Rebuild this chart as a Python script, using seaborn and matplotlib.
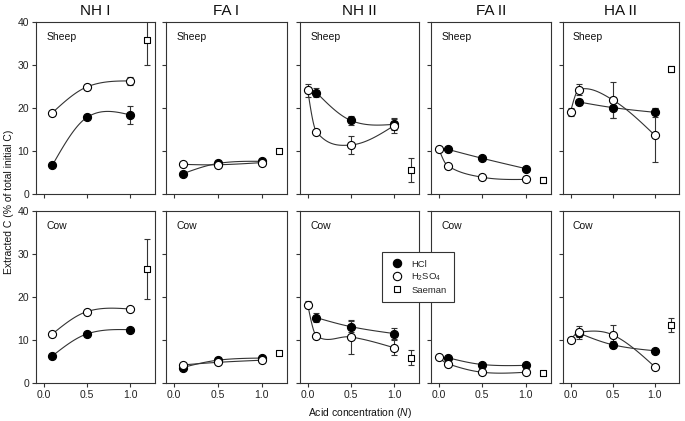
import numpy as np
import pandas as pd
import matplotlib.pyplot as plt
from matplotlib.lines import Line2D
import seaborn as sns

fractions = ["NH I", "FA I", "NH II", "FA II", "HA II"]
animals = ["Sheep", "Cow"]

hcl_x = [0.1, 0.5, 1.0]
h2so4_x_i = [0.1, 0.5, 1.0]          # NH I, FA I
h2so4_x_ii = [0.0, 0.1, 0.5, 1.0]    # NH II, FA II, HA II
saeman_x = 1.2

# sheep, one row per fraction
hcl_sheep = [[6.7, 17.8, 18.4], [4.7, 7.1, 7.6], [23.6, 17.1, 16.2],
             [10.4, 8.3, 5.9], [21.4, 20.1, 19.0]]
hcl_sheep_err = [[0, 0, 2.1], [0, 0, 0], [1.0, 1.0, 1.2],
                 [0, 0, 0], [0.8, 2.4, 1.0]]
h2so4_sheep = [[18.9, 24.9, 26.3], [6.9, 6.8, 7.3], [24.1, 14.5, 11.4, 15.9],
               [10.5, 6.6, 3.9, 3.4], [19.1, 24.3, 21.9, 13.7]]
h2so4_sheep_err = [[0, 0, 1.0], [0, 0, 0], [1.5, 0, 2.1, 1.7],
                   [0, 0, 0, 0], [1.0, 1.3, 4.2, 6.3]]
saeman_sheep = [35.9, 10.0, 5.6, 3.2, 29.0]
saeman_sheep_err = [6.0, 0, 2.7, 0.7, 0.7]

# cow
hcl_cow = [[6.3, 11.4, 12.4], [3.6, 5.3, 5.8], [15.2, 13.1, 11.5],
           [5.9, 4.3, 4.1], [11.6, 8.9, 7.5]]
hcl_cow_err = [[0, 0, 0], [0, 0, 0], [1.0, 1.3, 1.2],
               [0, 0, 0], [1.0, 0.8, 0]]
h2so4_cow = [[11.4, 16.6, 17.2], [4.2, 4.8, 5.3], [18.2, 11.0, 10.7, 8.2],
             [6.0, 4.5, 2.5, 2.5], [10.0, 11.8, 11.2, 3.8]]
h2so4_cow_err = [[0, 0, 0], [0, 0, 0], [0.8, 0, 4.0, 1.8],
                 [0, 0, 0, 0], [0, 1.5, 2.3, 0.5]]
saeman_cow = [26.5, 7.0, 5.9, 2.4, 13.5]
saeman_cow_err = [6.9, 0, 1.8, 0, 1.6]


def smooth_curve(x, y, num=25):
    # cardinal Hermite curve through the measured points (drawing only)
    x = np.asarray(x, float)
    y = np.asarray(y, float)
    n = len(x)
    sec = np.diff(y) / np.diff(x)
    m = np.zeros(n)
    for i in range(1, n - 1):
        m[i] = (y[i + 1] - y[i - 1]) / (x[i + 1] - x[i - 1])
    m[0] = (3 * sec[0] - m[1]) / 2
    m[-1] = (3 * sec[-1] - m[-2]) / 2
    xs_all, ys_all = [], []
    for i in range(n - 1):
        h = x[i + 1] - x[i]
        t = np.linspace(0, 1, num)
        h00 = 2 * t ** 3 - 3 * t ** 2 + 1
        h10 = t ** 3 - 2 * t ** 2 + t
        h01 = -2 * t ** 3 + 3 * t ** 2
        h11 = t ** 3 - t ** 2
        ys = h00 * y[i] + h10 * h * m[i] + h01 * y[i + 1] + h11 * h * m[i + 1]
        xs = x[i] + t * h
        if i > 0:
            xs, ys = xs[1:], ys[1:]
        xs_all.append(xs)
        ys_all.append(ys)
    return np.concatenate(xs_all), np.concatenate(ys_all)


sns.set_theme(style="ticks")
plt.rcParams['font.family'] = ['Liberation Sans', 'DejaVu Sans']
plt.rcParams['mathtext.fontset'] = 'custom'
plt.rcParams['mathtext.rm'] = 'Liberation Sans'
plt.rcParams['mathtext.it'] = 'Liberation Sans:italic'

W, H = 685, 421
fig = plt.figure(figsize=(W / 100, H / 100), dpi=100)

lefts = [36, 166, 300, 431, 563]
widths = [119, 121, 119, 120, 116]
row_top = [22, 211]
row_h = 172

ink = '#333333'

for r, animal in enumerate(animals):
    if animal == "Sheep":
        hcl, hcl_e, h2, h2_e, sa, sa_e = (hcl_sheep, hcl_sheep_err, h2so4_sheep,
                                          h2so4_sheep_err, saeman_sheep, saeman_sheep_err)
    else:
        hcl, hcl_e, h2, h2_e, sa, sa_e = (hcl_cow, hcl_cow_err, h2so4_cow,
                                          h2so4_cow_err, saeman_cow, saeman_cow_err)
    for c, frac in enumerate(fractions):
        bottom = 1 - (row_top[r] + row_h) / H
        ax = fig.add_axes([lefts[c] / W, bottom, widths[c] / W, row_h / H])
        h2x = h2so4_x_i if c < 2 else h2so4_x_ii

        # smooth connecting curves
        for xx, yy in [(hcl_x, hcl[c]), (h2x, h2[c])]:
            xs, ys = smooth_curve(xx, yy)
            sns.lineplot(x=xs, y=ys, ax=ax, color=ink, linewidth=0.8,
                         estimator=None, sort=False, zorder=1)

        # error bars
        for xx, yy, ee in [(hcl_x, hcl[c], hcl_e[c]), (h2x, h2[c], h2_e[c]),
                           ([saeman_x], [sa[c]], [sa_e[c]])]:
            ax.errorbar(xx, yy, yerr=ee, fmt='none', ecolor=ink,
                        elinewidth=0.8, capsize=2, capthick=0.8, zorder=2)

        # markers
        sns.scatterplot(x=hcl_x, y=hcl[c], ax=ax, marker='o', s=34, color='black',
                        edgecolor='black', linewidth=0.8, zorder=3)
        sns.scatterplot(x=h2x, y=h2[c], ax=ax, marker='o', s=34, color='white',
                        edgecolor='black', linewidth=0.8, zorder=4)
        sns.scatterplot(x=[saeman_x], y=[sa[c]], ax=ax, marker='s', s=18, color='white',
                        edgecolor='black', linewidth=0.8, zorder=4)

        ax.set_xlim(-0.09, 1.29)
        ax.set_ylim(0, 40)
        ax.set_xticks([0.0, 0.5, 1.0])
        ax.set_yticks([0, 10, 20, 30, 40])
        ax.tick_params(direction='out', length=3, width=0.8, color=ink,
                       labelsize=7.5, pad=2, labelcolor='#222222')
        if r == 0:
            ax.set_xticklabels([])
            ax.set_title(frac, fontsize=11, pad=5, color='#111111')
        else:
            ax.set_xticklabels(['0.0', '0.5', '1.0'])
        if c > 0:
            ax.set_yticklabels([])
        ax.set_xlabel('')
        ax.set_ylabel('')
        for sp in ax.spines.values():
            sp.set_visible(True)
            sp.set_color(ink)
            sp.set_linewidth(0.8)
        ax.text(0.085, 0.915, animal, transform=ax.transAxes, fontsize=7.5,
                va='center', ha='left', color='#111111')

fig.text(0.013, 0.52, 'Extracted C (% of total initial C)', rotation=90,
         va='center', ha='center', fontsize=7.5, color='#111111')
fig.text(0.526, 0.018, 'Acid concentration ($\\it{N}$)', va='center', ha='center',
         fontsize=7.5, color='#111111')

handles = [
    Line2D([], [], marker='o', linestyle='none', markersize=6, markerfacecolor='black',
           markeredgecolor='black', markeredgewidth=0.8),
    Line2D([], [], marker='o', linestyle='none', markersize=6, markerfacecolor='white',
           markeredgecolor='black', markeredgewidth=0.8),
    Line2D([], [], marker='s', linestyle='none', markersize=4.3, markerfacecolor='white',
           markeredgecolor='black', markeredgewidth=0.8),
]
leg = fig.legend(handles, ['HCl', 'H$_2$SO$_4$', 'Saeman'], loc='upper left',
                 bbox_to_anchor=(382 / W, 1 - 252 / H), fontsize=6.8, frameon=True,
                 fancybox=False, framealpha=1, edgecolor=ink,
                 borderpad=0.8, labelspacing=0.3, handletextpad=0.8,
                 handlelength=1.5, borderaxespad=0)
leg.get_frame().set_linewidth(0.8)
leg.set_zorder(10)

fig.savefig('out.png', dpi=100)
